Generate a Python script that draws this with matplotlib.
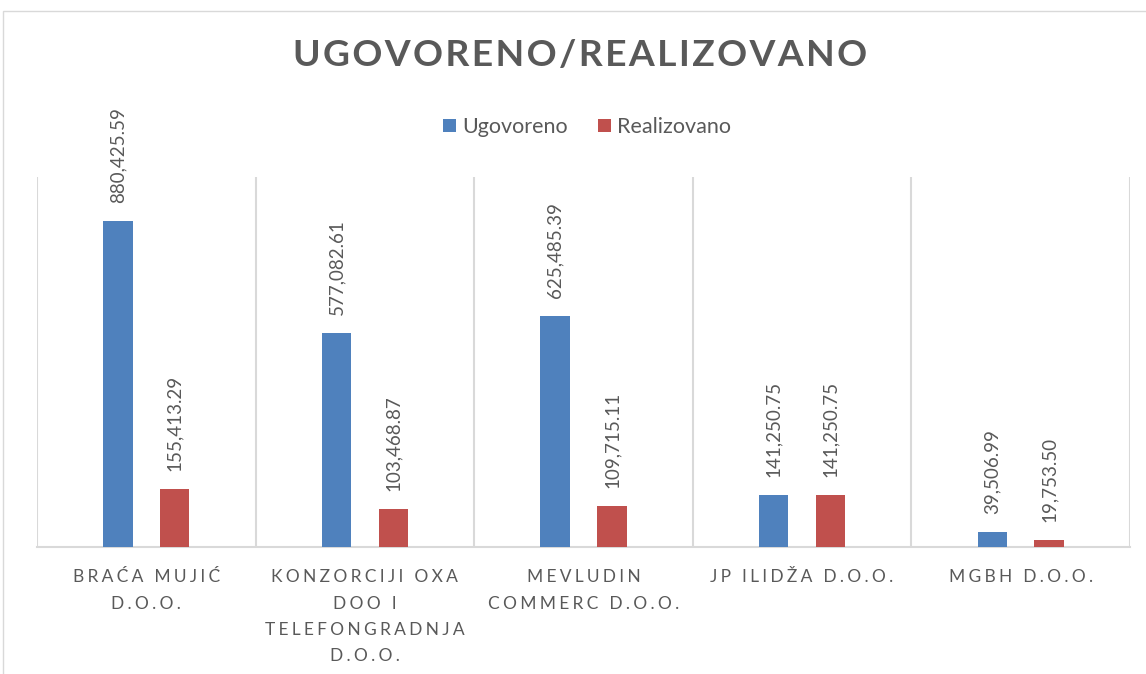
import numpy as np
import matplotlib
matplotlib.use('Agg')
from matplotlib import pyplot as plt
from matplotlib.patches import Rectangle

plt.rcParams['font.family'] = ['Lato', 'DejaVu Sans']

categories = ['BRAĆA MUJIĆ\nD.O.O.', 'KONZORCIJI OXA\nDOO I\nTELEFONGRADNJA\nD.O.O.',
              'MEVLUDIN\nCOMMERC D.O.O.', 'JP ILIDŽA D.O.O.', 'MGBH D.O.O.']
ugovoreno = [880425.59, 577082.61, 625485.39, 141250.75, 39506.99]
realizovano = [155413.29, 103468.87, 109715.11, 141250.75, 19753.50]
series_names = ['Ugovoreno', 'Realizovano']
colors = ['#4F81BD', '#C0504D']
gray = '#595959'


def spaced(s, sp='\u2009\u200a'):
    # fake Excel's letter spacing
    return '\n'.join(sp.join(line) for line in s.split('\n'))


fig = plt.figure(figsize=(11.46, 6.74), dpi=100)
fig.patches.append(Rectangle((3 / 1146, -0.01), 1.02, 1 - 11 / 674 + 0.01, transform=fig.transFigure,
                             fill=False, edgecolor='#D9D9D9', linewidth=1))
ax = fig.add_axes([37 / 1146, 1 - 547 / 674, (1130 - 37) / 1146, (547 - 177) / 674])

x = np.arange(len(categories))
w = 0.135
off = 0.13
for vals, sgn, c, name in [(ugovoreno, -1, colors[0], series_names[0]), (realizovano, 1, colors[1], series_names[1])]:
    bars = ax.bar(x + sgn * off, vals, width=w, color=c, label=name, zorder=3)
    for b, v in zip(bars, vals):
        ax.annotate(f'{v:,.2f}', (b.get_x() + b.get_width() / 2, b.get_height()),
                    xytext=(0, 13), textcoords='offset points', rotation=90,
                    ha='center', va='bottom', fontsize=13.5, color=gray)

ax.set_xlim(-0.5, len(categories) - 0.5)
ax.set_ylim(0, 1000000)
ax.set_yticks([])
ax.set_xticks(x)
ax.set_xticklabels([spaced(c) for c in categories], fontsize=12.5, color=gray, linespacing=1.8)
ax.set_xticks(np.arange(len(categories) + 1) - 0.5, minor=True)
ax.tick_params(axis='x', which='both', length=0, pad=16)
ax.grid(axis='x', which='minor', color='#D9D9D9', linewidth=1.5, zorder=0)
for s in ['top', 'left', 'right']:
    ax.spines[s].set_visible(False)
ax.spines['bottom'].set_color('#D9D9D9')
ax.spines['bottom'].set_linewidth(1.5)

fig.text(580 / 1146, 1 - 55 / 674, spaced('UGOVORENO/REALIZOVANO', '\u200a'), ha='center', va='center',
         fontsize=26.8, fontweight='bold', color=gray)
fig.legend(loc='center', bbox_to_anchor=(587 / 1146, 1 - 127 / 674), ncol=2, frameon=False,
           fontsize=15.5, labelcolor=gray, handlelength=0.6, handleheight=0.6,
           handletextpad=0.3, columnspacing=1.4)

fig.savefig('out.png', dpi=100)
